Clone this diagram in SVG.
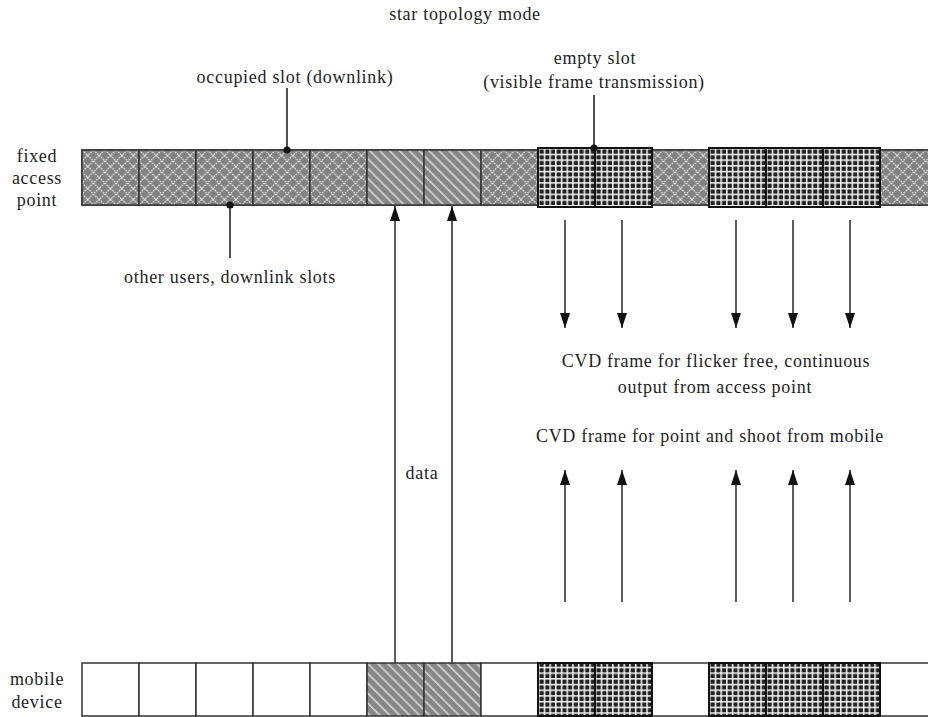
<svg xmlns="http://www.w3.org/2000/svg" width="928" height="717" viewBox="0 0 928 717">
  <style>
    text { font-family: "Liberation Serif", "Times New Roman", serif; font-size: 18px; letter-spacing: 0.7px; fill: #1e1e1e; text-anchor: middle; }
    .cell { stroke: #333; stroke-width: 1.5; }
    .xh { fill: url(#xhatch); }
    .dg { fill: url(#diag); }
    .gr { fill: url(#grid); stroke: #111; stroke-width: 2; }
    .wh { fill: #fff; }
    .lead { stroke: #222; stroke-width: 1.6; fill: none; }
    .arrow { stroke: #333; stroke-width: 1.6; fill: none; marker-end: url(#ah); }
  </style>
  <defs>
    <!-- diamond lattice: other users' downlink slots -->
    <pattern id="xhatch" x="82" y="150" width="11.4" height="11" patternUnits="userSpaceOnUse">
      <rect width="11.4" height="11" fill="#828282"/>
      <path d="M0 0L11.4 11M11.4 0L0 11" stroke="#f0f0f0" stroke-width="1" stroke-dasharray="1.8 0.8"/>
    </pattern>
    <!-- diagonal hatch: data slots -->
    <pattern id="diag" width="7" height="7" patternUnits="userSpaceOnUse" patternTransform="rotate(-45)">
      <rect width="7" height="7" fill="#878787"/>
      <rect width="1.6" height="7" fill="#d6d6d6"/>
    </pattern>
    <!-- fine grid: CVD frame slots -->
    <pattern id="grid" x="538" y="148" width="5.7" height="5.7" patternUnits="userSpaceOnUse">
      <rect width="5.7" height="5.7" fill="#f6f6f6"/>
      <rect x="1.5" y="1.5" width="4.2" height="4.2" fill="#222"/>
    </pattern>
    <marker id="ah" markerWidth="15" markerHeight="10" refX="15" refY="5" orient="auto" markerUnits="userSpaceOnUse">
      <path d="M0 0L15 5L0 10z" fill="#111"/>
    </marker>
  </defs>

  <rect width="928" height="717" fill="#fff"/>

  <g id="title"><text x="465" y="20">star topology mode</text></g>

  <g id="label-ap">
    <text x="37" y="162">fixed</text>
    <text x="37" y="184">access</text>
    <text x="37" y="206">point</text>
  </g>
  <g id="label-mobile">
    <text x="37" y="685">mobile</text>
    <text x="37" y="708">device</text>
  </g>

  <!-- access point frame -->
  <g id="ap-frame">
    <rect x="82" y="150" width="846" height="55" fill="#828282" stroke="#444" stroke-width="1.5"/>
    <rect class="cell xh" x="82" y="150" width="57" height="55"/>
    <rect class="cell xh" x="139" y="150" width="57" height="55"/>
    <rect class="cell xh" x="196" y="150" width="57" height="55"/>
    <rect class="cell xh" x="253" y="150" width="57" height="55"/>
    <rect class="cell xh" x="310" y="150" width="57" height="55"/>
    <rect class="cell dg" x="367" y="150" width="57" height="55"/>
    <rect class="cell dg" x="424" y="150" width="57" height="55"/>
    <rect class="cell xh" x="481" y="150" width="57" height="55"/>
    <rect class="cell xh" x="652" y="150" width="57" height="55"/>
    <rect class="cell xh" x="880" y="150" width="60" height="55"/>
    <rect class="gr" x="538" y="148" width="57" height="59"/>
    <rect class="gr" x="595" y="148" width="57" height="59"/>
    <rect class="gr" x="709" y="148" width="57" height="59"/>
    <rect class="gr" x="766" y="148" width="57" height="59"/>
    <rect class="gr" x="823" y="148" width="57" height="59"/>
  </g>

  <!-- mobile device frame -->
  <g id="mobile-frame">
    <rect class="cell wh" x="82" y="663" width="57" height="53"/>
    <rect class="cell wh" x="139" y="663" width="57" height="53"/>
    <rect class="cell wh" x="196" y="663" width="57" height="53"/>
    <rect class="cell wh" x="253" y="663" width="57" height="53"/>
    <rect class="cell wh" x="310" y="663" width="57" height="53"/>
    <rect class="cell dg" x="367" y="663" width="57" height="53"/>
    <rect class="cell dg" x="424" y="663" width="57" height="53"/>
    <rect class="cell wh" x="481" y="663" width="57" height="53"/>
    <rect class="cell wh" x="652" y="663" width="57" height="53"/>
    <rect class="cell wh" x="880" y="663" width="60" height="53"/>
    <rect class="gr" x="538" y="663" width="57" height="53"/>
    <rect class="gr" x="595" y="663" width="57" height="53"/>
    <rect class="gr" x="709" y="663" width="57" height="53"/>
    <rect class="gr" x="766" y="663" width="57" height="53"/>
    <rect class="gr" x="823" y="663" width="57" height="53"/>
  </g>

  <g id="label-occupied"><text x="295" y="83">occupied slot (downlink)</text></g>
  <g id="label-empty">
    <text x="595" y="64">empty slot</text>
    <text x="594" y="88">(visible frame transmission)</text>
  </g>
  <g id="label-other"><text x="230" y="283">other users, downlink slots</text></g>
  <g id="label-data"><text x="422" y="479">data</text></g>
  <g id="label-cvd-down">
    <text x="716" y="367">CVD frame for flicker free, continuous</text>
    <text x="715" y="393">output from access point</text>
  </g>
  <g id="label-cvd-up"><text x="710" y="442">CVD frame for point and shoot from mobile</text></g>

  <g id="connectors">
    <!-- callout leaders -->
    <path class="lead" d="M287 88V150"/>
    <circle cx="287" cy="150" r="3.6" fill="#111"/>
    <path class="lead" d="M594 95V148"/>
    <circle cx="594" cy="148" r="3.6" fill="#111"/>
    <path class="lead" d="M230 205V258"/>
    <circle cx="230" cy="205" r="3.6" fill="#111"/>

    <!-- uplink data -->
    <path class="arrow" d="M395 663V206"/>
    <path class="arrow" d="M452 663V206"/>

    <!-- CVD output from access point -->
    <path class="arrow" d="M565 220V328"/>
    <path class="arrow" d="M622 220V328"/>
    <path class="arrow" d="M736 220V328"/>
    <path class="arrow" d="M793 220V328"/>
    <path class="arrow" d="M850 220V328"/>

    <!-- CVD point and shoot from mobile -->
    <path class="arrow" d="M565 602V470"/>
    <path class="arrow" d="M622 602V470"/>
    <path class="arrow" d="M736 602V470"/>
    <path class="arrow" d="M793 602V470"/>
    <path class="arrow" d="M850 602V470"/>
  </g>
</svg>
